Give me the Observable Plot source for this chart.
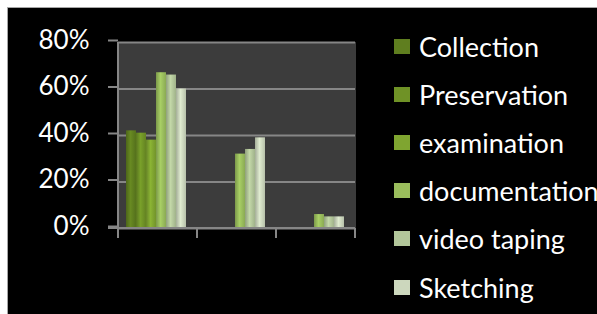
<!DOCTYPE html>
<html><head><meta charset="utf-8">
<script src="https://cdn.jsdelivr.net/npm/d3@7"></script>
<script src="https://cdn.jsdelivr.net/npm/@observablehq/plot@0.6"></script>
<style>
html,body{margin:0;padding:0;background:#fff;width:597px;height:314px;overflow:hidden;}
#bg{position:absolute;left:7px;top:7px;width:590px;height:307px;background:#000;border-top:1px solid #a6a6a6;border-left:1px solid #a6a6a6;box-sizing:border-box}
#chart{position:absolute;left:0;top:0}
#legend{position:absolute;left:394px;top:22px;width:320px;font-family:Lato,sans-serif;font-size:27px;color:#fff}
#legend .lg-swatch{height:48.2px;padding:0 !important;margin:0 !important;display:flex;align-items:center}
#legend .lg-swatch svg{margin-right:9px !important}
#legend .lg-swatch span, #legend .lg-swatch div{overflow:visible !important;text-overflow:clip !important;max-width:none !important}
</style></head><body>
<div id="bg"></div>
<div id="chart"></div>
<div id="legend"></div>
<script>
const categories = ["Group 1", "Group 2", "Group 3"];
const series = ["Collection", "Preservation", "examination", "documentation", "video taping", "Sketching"];
const group1 = [0.42, 0.41, 0.38, 0.67, 0.66, 0.60];
const group2 = [null, null, null, 0.32, 0.34, 0.39];
const group3 = [null, null, null, 0.06, 0.05, 0.05];
const colors = ["#5f7e1f", "#6f9226", "#7fa530", "#9abd5c", "#b2c69a", "#ccd7bd"];
const yTicks = [0, 0.2, 0.4, 0.6, 0.8];

const groups = [group1, group2, group3];
const data = [];
categories.forEach((c, i) => series.forEach((s, j) => {
  if (groups[i][j] != null) data.push({category: c, series: s, value: groups[i][j]});
}));

const gridColor = "#868686";
const panel = "#3c3c3c";
const chart = Plot.plot({
  width: 370, height: 314,
  marginLeft: 117, marginRight: 14, marginTop: 42, marginBottom: 86,
  style: {background: "transparent", color: "#fff", fontFamily: "Lato, sans-serif", fontSize: "26px"},
  fx: {domain: categories, padding: 0, axis: null},
  x: {domain: series, paddingInner: 0, paddingOuter: 0.85, align: 0.4, axis: null},
  y: {domain: [0, 0.8]},
  color: {domain: series, range: colors},
  marks: [
    Plot.frame({fill: panel, stroke: panel}),
    Plot.gridY(yTicks, {stroke: gridColor, strokeOpacity: 1, strokeWidth: 2}),
    Plot.barY(data, {fx: "category", x: "series", y: "value", fill: "series", className: "bars"}),
    Plot.axisY(yTicks, {label: null, tickFormat: d3.format(".0%"), tickSize: 10, tickPadding: 19, stroke: gridColor, strokeWidth: 2, fill: "#fff", fontSize: 26, dy: -2})
  ]
});
document.getElementById("chart").appendChild(chart);

// 3D-like shading of bars: horizontal gradient per series colour
const svg = d3.select(chart);
const defs = svg.insert("defs", ":first-child");
colors.forEach((c, i) => {
  const base = d3.color(c);
  const lg = defs.append("linearGradient").attr("id", "barg" + i).attr("x1", 0).attr("x2", 1).attr("y1", 0).attr("y2", 0);
  lg.append("stop").attr("offset", "0%").attr("stop-color", base.darker(0.6).formatHex());
  lg.append("stop").attr("offset", "45%").attr("stop-color", base.brighter(0.25).formatHex());
  lg.append("stop").attr("offset", "100%").attr("stop-color", base.darker(0.3).formatHex());
});
svg.selectAll(".bars rect").each(function() {
  const f = d3.color(this.getAttribute("fill"));
  const i = colors.findIndex(c => d3.color(c).formatHex() === (f && f.formatHex()));
  if (i >= 0) this.setAttribute("fill", "url(#barg" + i + ")");
});

// category boundary ticks & axis lines from the plot's own scales
const fxS = chart.scale("fx"), yS = chart.scale("y");
const bw = fxS.bandwidth;
const bounds = categories.map(c => fxS.apply(c)).concat([fxS.apply(categories[categories.length - 1]) + bw]);
const y0 = yS.apply(0), yTop = yS.apply(0.8);
const g = svg.append("g").attr("stroke", gridColor).attr("stroke-width", 2);
g.append("line").attr("x1", bounds[0] - 10).attr("x2", bounds[bounds.length - 1]).attr("y1", y0).attr("y2", y0);
bounds.forEach((b, i) => g.append("line").attr("x1", b).attr("x2", b).attr("y1", i === 0 ? yTop : y0).attr("y2", y0 + 10));

const legend = Plot.legend({color: {domain: series, range: colors}, legend: "swatches", columns: 1, swatchWidth: 16, swatchHeight: 15, className: "lg", style: {fontFamily: "Lato, sans-serif", fontSize: "27px", color: "#fff"}});
document.getElementById("legend").appendChild(legend);
</script>
</body></html>
